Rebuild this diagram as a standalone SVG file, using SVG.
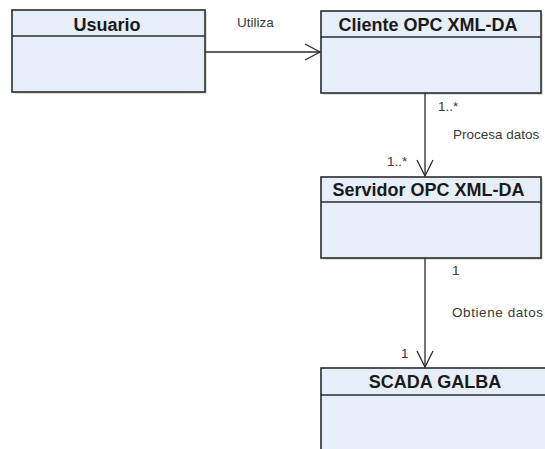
<svg xmlns="http://www.w3.org/2000/svg" width="545" height="449" viewBox="0 0 545 449">
  <style>
    .shadow { fill: #c8c8c8; opacity: 0.6; }
    .box { fill: #e6eefa; stroke: #2b2b2b; stroke-width: 1.6; }
    .div { stroke: #2b2b2b; stroke-width: 1.6; }
    .title { font-family: "Liberation Sans", Arial, sans-serif; font-weight: bold; font-size: 18px; fill: #1a1a1a; text-anchor: middle; }
    .lbl { font-family: "Liberation Sans", Arial, sans-serif; font-size: 13.5px; fill: #3a3a3a; }
    .edge { fill: none; stroke: #2b2b2b; stroke-width: 1.3; }
  </style>
  <rect width="545" height="449" fill="#ffffff"/>

  <g id="usuario">
    <rect class="shadow" x="14" y="12" width="193" height="82"/>
    <rect class="box" x="12" y="10" width="193" height="82"/>
    <line class="div" x1="12" y1="36" x2="205" y2="36"/>
    <text class="title" x="107" y="31">Usuario</text>
  </g>

  <g id="cliente">
    <rect class="shadow" x="323" y="13" width="220" height="82"/>
    <rect class="box" x="321" y="11" width="220" height="82"/>
    <line class="div" x1="321" y1="37" x2="541" y2="37"/>
    <text class="title" x="428" y="31">Cliente OPC XML-DA</text>
  </g>

  <g id="servidor">
    <rect class="shadow" x="323" y="179" width="220" height="81"/>
    <rect class="box" x="321" y="177" width="220" height="81"/>
    <line class="div" x1="321" y1="202" x2="541" y2="202"/>
    <text class="title" x="428.5" y="196">Servidor OPC XML-DA</text>
  </g>

  <g id="scada">
    <rect class="box" x="321" y="368" width="230" height="90"/>
    <line class="div" x1="321" y1="395" x2="551" y2="395"/>
    <text class="title" x="435" y="388">SCADA GALBA</text>
  </g>

  <g id="connectors">
    <line class="edge" x1="205" y1="52" x2="320" y2="52"/>
    <polyline class="edge" points="305,44 320,52 305,60"/>
    <text class="lbl" x="237" y="27">Utiliza</text>

    <line class="edge" x1="425" y1="93" x2="425" y2="176"/>
    <polyline class="edge" points="417,160 425,176 433,160"/>
    <text class="lbl" x="438" y="111">1..*</text>
    <text class="lbl" x="453" y="139">Procesa datos</text>
    <text class="lbl" x="387" y="166">1..*</text>

    <line class="edge" x1="425" y1="258" x2="425" y2="367"/>
    <polyline class="edge" points="417,351 425,367 433,351"/>
    <text class="lbl" x="452" y="275">1</text>
    <text class="lbl" x="452" y="317" textLength="91">Obtiene  datos</text>
    <text class="lbl" x="401" y="358">1</text>
  </g>
</svg>
